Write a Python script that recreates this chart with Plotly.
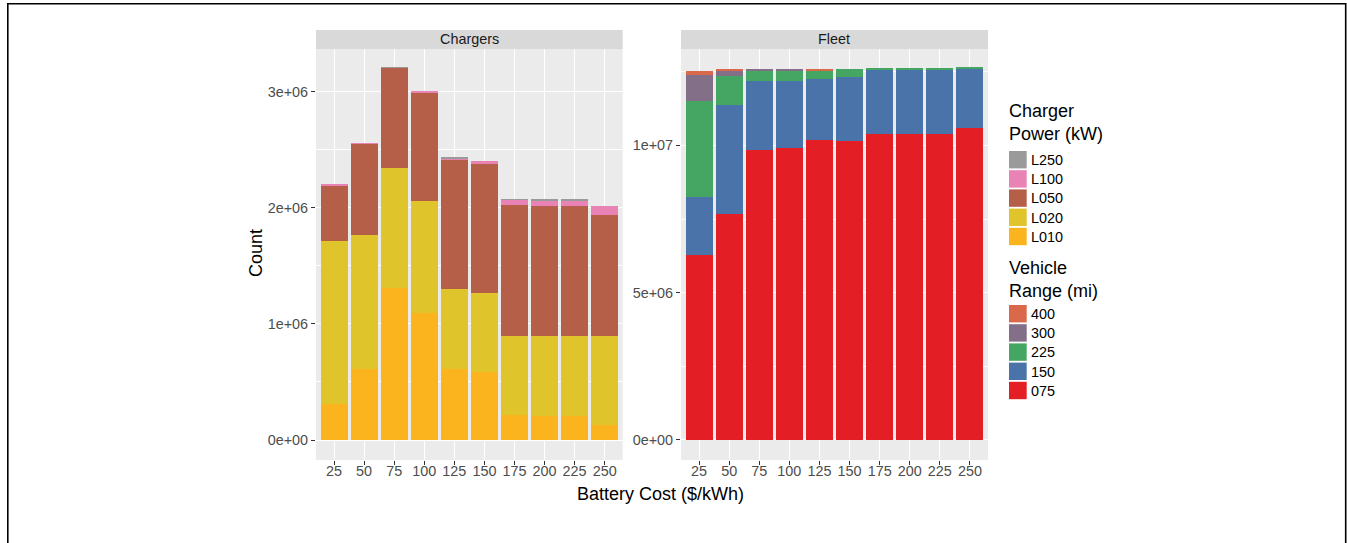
import plotly.graph_objects as go

# Battery cost scenarios ($/kWh)
costs = ["25", "50", "75", "100", "125", "150", "175", "200", "225", "250"]

# Charger counts by charger power level (millions)
chg_L010 = [0.313, 0.612, 1.313, 1.095, 0.612, 0.589, 0.216, 0.210, 0.210, 0.129]
chg_L020 = [1.403, 1.155, 1.034, 0.968, 0.690, 0.678, 0.681, 0.687, 0.687, 0.768]
chg_L050 = [0.479, 0.788, 0.858, 0.932, 1.106, 1.112, 1.129, 1.120, 1.120, 1.043]
chg_L100 = [0.003, 0.003, 0.003, 0.003, 0.020, 0.026, 0.043, 0.049, 0.049, 0.077]
chg_L250 = [0.000, 0.000, 0.002, 0.000, 0.002, 0.000, 0.002, 0.002, 0.002, 0.000]

# Fleet size by vehicle range (millions)
flt_075 = [6.27, 7.68, 9.83, 9.90, 10.17, 10.14, 10.37, 10.37, 10.37, 10.58]
flt_150 = [1.97, 3.68, 2.35, 2.30, 2.07, 2.17, 2.22, 2.22, 2.22, 2.03]
flt_225 = [3.25, 0.98, 0.36, 0.34, 0.30, 0.27, 0.02, 0.02, 0.02, 0.03]
flt_300 = [0.91, 0.20, 0.05, 0.05, 0.01, 0.00, 0.00, 0.00, 0.00, 0.00]
flt_400 = [0.14, 0.05, 0.00, 0.00, 0.04, 0.00, 0.00, 0.00, 0.00, 0.00]

charger_levels = ["L250", "L100", "L050", "L020", "L010"]
charger_colors = ["#9A9A9A", "#E983B5", "#B55F48", "#E0C42C", "#FCB41E"]
range_levels = ["400", "300", "225", "150", "075"]
range_colors = ["#D9694A", "#836F87", "#45A562", "#4A74A9", "#E31E24"]

left_ticks = [0, 1e6, 2e6, 3e6]
left_ticktext = ["0e+00", "1e+06", "2e+06", "3e+06"]
right_ticks = [0, 5e6, 1e7]
right_ticktext = ["0e+00", "5e+06", "1e+07"]

W, H = 1347, 543
FONT = "Liberation Sans, Arial, Helvetica, sans-serif"


def px(x):
    return x / W


def py(y):
    return 1 - y / H


charger_series = {"L010": chg_L010, "L020": chg_L020, "L050": chg_L050,
                  "L100": chg_L100, "L250": chg_L250}
fleet_series = {"075": flt_075, "150": flt_150, "225": flt_225,
                "300": flt_300, "400": flt_400}
charger_color_map = dict(zip(charger_levels, charger_colors))
range_color_map = dict(zip(range_levels, range_colors))

fig = go.Figure()

# stacked bars, bottom level first
for name in ["L010", "L020", "L050", "L100", "L250"]:
    fig.add_trace(go.Bar(
        x=costs, y=[v * 1e6 for v in charger_series[name]], name=name,
        marker=dict(color=charger_color_map[name], line=dict(width=0)),
        width=0.9, xaxis="x", yaxis="y", showlegend=False))

for name in ["075", "150", "225", "300", "400"]:
    fig.add_trace(go.Bar(
        x=costs, y=[v * 1e6 for v in fleet_series[name]], name=name,
        marker=dict(color=range_color_map[name], line=dict(width=0)),
        width=0.9, xaxis="x2", yaxis="y2", showlegend=False))

panel_top, panel_bot = 49, 460
lx0, lx1 = 316, 622.7
rx0, rx1 = 681, 988

tickfont = dict(family=FONT, size=14.4, color="#4D4D4D")
common_x = dict(type="category", categoryorder="array", categoryarray=costs,
                range=[-0.6, 9.6], showgrid=True, gridcolor="white", gridwidth=1.4,
                ticks="outside", ticklen=4, tickwidth=1.1, tickcolor="#333333",
                tickfont=tickfont, ticklabelstandoff=-6,
                showline=False, zeroline=False, fixedrange=True)
common_y = dict(showgrid=True, gridcolor="white", gridwidth=1.4,
                ticks="outside", ticklen=4, tickwidth=1.1, tickcolor="#333333",
                tickfont=tickfont, showline=False, zeroline=False, fixedrange=True)

fig.update_layout(
    width=W, height=H,
    margin=dict(l=0, r=0, t=0, b=0),
    paper_bgcolor="white", plot_bgcolor="#EBEBEB",
    barmode="stack", showlegend=False,
    font=dict(family=FONT, color="#1A1A1A"),
    xaxis=dict(domain=[px(lx0), px(lx1)], anchor="y", **common_x),
    xaxis2=dict(domain=[px(rx0), px(rx1)], anchor="y2", **common_x),
    yaxis=dict(domain=[py(panel_bot), py(panel_top)], anchor="x",
               range=[-0.172e6, 3.368e6], tickvals=left_ticks, ticktext=left_ticktext,
               minor=dict(tickvals=[0.5e6, 1.5e6, 2.5e6], showgrid=True,
                          gridcolor="white", gridwidth=0.7, ticks=""),
               **common_y),
    yaxis2=dict(domain=[py(panel_bot), py(panel_top)], anchor="x2",
                range=[-0.679e6, 13.27e6], tickvals=right_ticks, ticktext=right_ticktext,
                minor=dict(tickvals=[2.5e6, 7.5e6, 12.5e6], showgrid=True,
                           gridcolor="white", gridwidth=0.7, ticks=""),
                **common_y),
)

shapes = []
annotations = []

# facet strips
for (x0, x1, label) in [(lx0, lx1, "Chargers"), (rx0, rx1, "Fleet")]:
    shapes.append(dict(type="rect", xref="paper", yref="paper",
                       x0=px(x0), x1=px(x1), y0=py(49), y1=py(30),
                       fillcolor="#D9D9D9", line=dict(width=0), layer="below"))
    annotations.append(dict(text=label, xref="paper", yref="paper",
                            x=px((x0 + x1) / 2), y=py(39.5), showarrow=False,
                            xanchor="center", yanchor="middle",
                            font=dict(family=FONT, size=14.4, color="#1A1A1A")))

# axis titles
annotations.append(dict(text="Count", xref="paper", yref="paper", x=px(256), y=py(253),
                        textangle=-90, showarrow=False, xanchor="center", yanchor="middle",
                        font=dict(family=FONT, size=18, color="black")))
annotations.append(dict(text="Battery Cost ($/kWh)", xref="paper", yref="paper",
                        x=px(660), y=py(494), showarrow=False,
                        xanchor="center", yanchor="middle",
                        font=dict(family=FONT, size=18, color="black")))

# legends
def add_legend(title_lines, title_ys, key_top, levels, colors):
    for line, yy in zip(title_lines, title_ys):
        annotations.append(dict(text=line, xref="paper", yref="paper", x=px(1007),
                                y=py(yy), showarrow=False, xanchor="left",
                                yanchor="middle",
                                font=dict(family=FONT, size=18, color="black")))
    step = 19.2
    for i, (lev, col) in enumerate(zip(levels, colors)):
        t = key_top + i * step
        shapes.append(dict(type="rect", xref="paper", yref="paper",
                           x0=px(1009), x1=px(1026.7), y0=py(t + 17.4), y1=py(t),
                           fillcolor=col, line=dict(width=0)))
        annotations.append(dict(text=lev, xref="paper", yref="paper", x=px(1028.5),
                                y=py(t + 8.9), showarrow=False, xanchor="left",
                                yanchor="middle",
                                font=dict(family=FONT, size=14.4, color="black")))


add_legend(["Charger", "Power (kW)"], [111, 134], 151, charger_levels, charger_colors)
add_legend(["Vehicle", "Range (mi)"], [268, 291], 305, range_levels, range_colors)

# outer frame
shapes.append(dict(type="rect", xref="paper", yref="paper",
                   x0=px(7.8), x1=px(1345.7), y0=-0.1, y1=py(3.8),
                   line=dict(color="black", width=1.6), fillcolor="rgba(0,0,0,0)"))

fig.update_layout(shapes=shapes, annotations=annotations)

fig.write_html("out.html")
